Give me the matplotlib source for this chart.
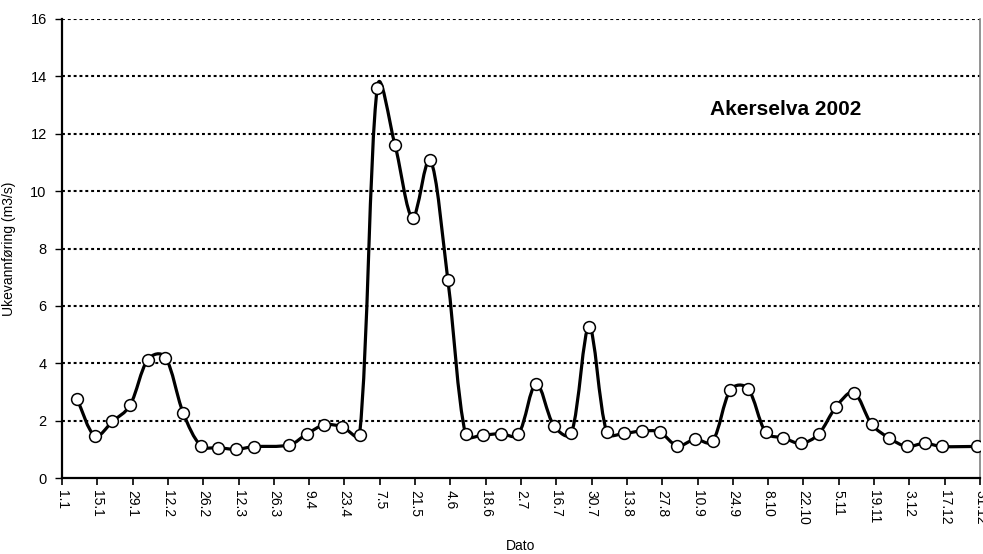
import numpy as np
import pandas as pd
import matplotlib
matplotlib.use('Agg')
import matplotlib.pyplot as plt
import matplotlib.dates as mdates
from matplotlib.path import Path
from matplotlib.patches import PathPatch

plt.rc('font', family=['Liberation Sans', 'DejaVu Sans'])

# weekly discharge (Mondays), Akerselva 2002 (None = missing week)
weeks = pd.date_range('2002-01-07', '2002-12-30', freq='7D')
flow = [2.75, 1.47, 1.97, 2.54, 4.12, 4.20, 2.28, 1.13, 1.06, 1.00,
        1.09, None, 1.15, 1.53, 1.85, 1.79, 1.51, 13.6, 11.62, 9.08,
        11.1, 6.9, 1.53, 1.50, 1.55, 1.53, 3.29, 1.83, 1.57, 5.27,
        1.60, 1.56, 1.64, 1.60, 1.12, 1.35, 1.29, 3.06, 3.11, 1.60,
        1.40, 1.21, 1.53, 2.49, 2.98, 1.88, 1.39, 1.10, 1.21, 1.10,
        None, 1.10]
tick_dates = pd.date_range('2002-01-01', '2002-12-31', freq='14D')
title = 'Akerselva 2002'

ok = [v is not None for v in flow]
x = mdates.date2num(weeks[ok])
y = np.array([v for v in flow if v is not None])

fig = plt.figure(figsize=(9.83, 5.54), dpi=100)
ax = fig.add_axes([62/983, 76/554, 918/983, 459/554])
ax.set_xlim(mdates.date2num(pd.Timestamp('2002-01-01')),
            mdates.date2num(pd.Timestamp('2002-12-31')))
ax.set_ylim(0, 16)


def handle(vec, k, seg):
    # control vector, kept shorter than about half the segment
    v = vec * k
    L = np.hypot(*v)
    if L > 0.45 * seg:
        v = v * 0.45 * seg / L
    return v


# smoothed line like Excel: bezier through the points, done in pixel space
P = ax.transData.transform(np.column_stack([x, y]))
n = len(P)
verts = [P[0]]
codes = [Path.MOVETO]
for i in range(n - 1):
    a = P[i - 1] if i > 0 else P[i]
    b = P[i]
    c = P[i + 1]
    d = P[i + 2] if i + 2 < n else P[i + 1]
    dab = np.hypot(*(b - a))
    dbc = np.hypot(*(c - b))
    dcd = np.hypot(*(d - c))
    k1 = (1/6 + dbc / (dab + dbc) / 3) / 2
    k2 = (1/6 + dbc / (dbc + dcd) / 3) / 2
    verts += [b + handle(c - a, k1, dbc), c - handle(d - b, k2, dbc), c]
    codes += [Path.CURVE4] * 3
verts = ax.transData.inverted().transform(np.array(verts))
ax.add_patch(PathPatch(Path(verts, codes), fill=False, lw=2.3,
                       edgecolor='black', zorder=3, capstyle='round',
                       joinstyle='round'))
ax.plot(x, y, ls='none', marker='o', ms=8.5, mfc='white', mec='black',
        mew=1.1, zorder=4)

ax.set_yticks(range(0, 17, 2))
for v in range(2, 17, 2):
    ax.axhline(v, color='black', lw=1.5, ls=(0, (1.4, 1.4)), zorder=1)

ax.set_xticks(mdates.date2num(tick_dates))
ax.set_xticklabels([f'{d.day}.{d.month}' for d in tick_dates],
                   rotation=-90, fontsize=10)
ax.tick_params(axis='x', length=5, width=1.2, direction='out', pad=4)
ax.tick_params(axis='y', length=5, width=1, direction='out',
               labelsize=10.5, pad=6)

ax.spines['top'].set_visible(False)
ax.spines['left'].set_linewidth(1.6)
ax.spines['bottom'].set_linewidth(1.6)
ax.spines['right'].set_color('#808080')
ax.spines['right'].set_linewidth(1.2)

ax.set_ylabel('Ukevannføring (m3/s)', fontsize=10, labelpad=10)
ax.set_xlabel('Dato', fontsize=10, labelpad=10)
ax.text(0.788, 0.803, title, transform=ax.transAxes, fontsize=15,
        fontweight='bold', ha='center', va='center')

fig.savefig('out.png', dpi=100)
